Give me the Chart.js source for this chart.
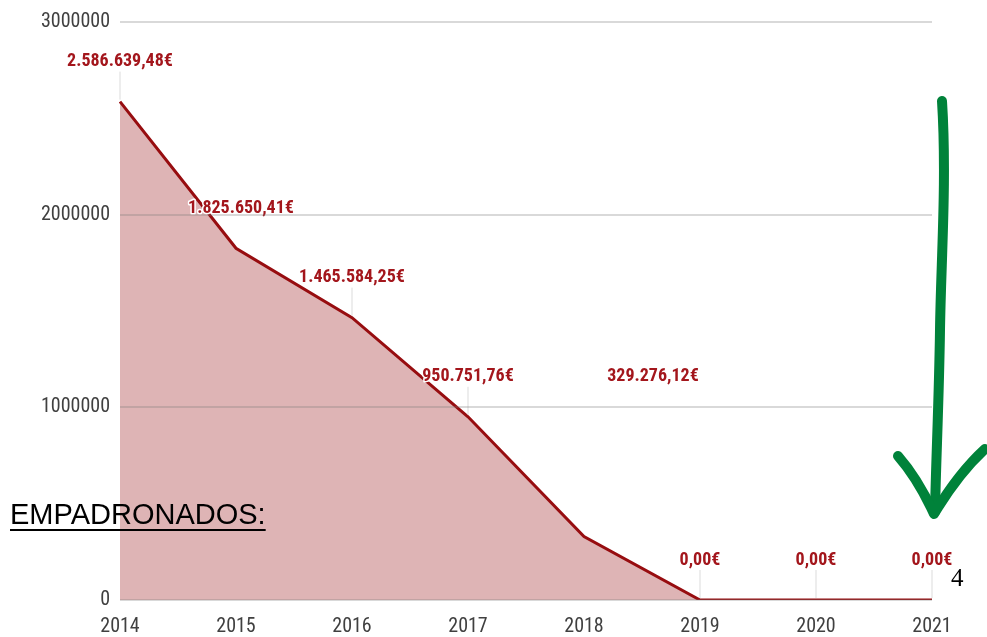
<!DOCTYPE html>
<html>
<head>
<meta charset="utf-8">
<script src="https://cdn.jsdelivr.net/npm/chart.js@4.4.1/dist/chart.umd.min.js"></script>
<style>
  html, body { margin: 0; padding: 0; background: #fff; }
  #wrap { position: relative; width: 987px; height: 637px; overflow: hidden; }
  #chart { position: absolute; left: 0; top: 0; }
  .note { position: absolute; left: 10px; top: 498px; font: 29px "Liberation Sans", Arial, sans-serif; color: #000; text-decoration: underline; text-decoration-thickness: 2px; text-underline-offset: 5px; }
  .page { position: absolute; left: 951px; top: 564px; font: 25px "Liberation Serif", serif; color: #000; }
  #arrow { position: absolute; left: 0; top: 0; pointer-events: none; }
</style>
</head>
<body>
<div id="wrap">
  <canvas id="chart" width="987" height="637"></canvas>
  <div class="note">EMPADRONADOS:</div>
  <div class="page">4</div>
  <svg id="arrow" width="987" height="637">
    <path d="M942 101 C947 180 941 260 940 330 C939 400 936 460 935 512" fill="none" stroke="#00823a" stroke-width="10" stroke-linecap="round"/>
    <path d="M898 456 C912 472 924 492 934 514 C946 494 962 470 985 449" fill="none" stroke="#00823a" stroke-width="10" stroke-linecap="round" stroke-linejoin="round"/>
  </svg>
</div>
<script>
// data
const years = ["2014", "2015", "2016", "2017", "2018", "2019", "2020", "2021"];
const amounts = [2586639.48, 1825650.41, 1465584.25, 950751.76, 329276.12, 0, 0, 0];
const yTicks = [0, 1000000, 2000000, 3000000];

const cond = "'Roboto Condensed', 'DejaVu Sans Condensed', sans-serif";

const euro = (v) => v.toLocaleString('de-DE', { minimumFractionDigits: 2, maximumFractionDigits: 2 }) + "€";

// value labels above each point, with a thin leader line
const valueLabels = {
  id: 'valueLabels',
  afterDatasetsDraw(chart, args, opts) {
    const ctx = chart.ctx;
    const meta = chart.getDatasetMeta(0);
    const moved = opts.moved || {};
    ctx.save();
    meta.data.forEach((pt, i) => {
      if (moved[i]) return;
      ctx.strokeStyle = 'rgba(215,215,215,0.9)';
      ctx.lineWidth = 1;
      ctx.beginPath();
      ctx.moveTo(pt.x, pt.y - 30);
      ctx.lineTo(pt.x, pt.y - 2);
      ctx.stroke();
    });
    ctx.font = "bold 18px " + cond;
    ctx.textAlign = 'center';
    ctx.textBaseline = 'middle';
    ctx.lineJoin = 'round';
    meta.data.forEach((pt, i) => {
      const m = moved[i] || [0, 0];
      const txt = euro(amounts[i]);
      const lx = pt.x + m[0];
      const ly = pt.y - 40 + m[1];
      ctx.strokeStyle = '#fff';
      ctx.lineWidth = 3;
      ctx.strokeText(txt, lx, ly);
      ctx.fillStyle = '#a3161c';
      ctx.fillText(txt, lx, ly);
    });
    ctx.restore();
  }
};

new Chart(document.getElementById('chart').getContext('2d'), {
  type: 'line',
  data: {
    labels: years,
    datasets: [{
      data: amounts,
      borderColor: '#970d10',
      borderWidth: 3,
      backgroundColor: 'rgb(222,180,181)',
      fill: 'origin',
      pointRadius: 0,
      tension: 0
    }]
  },
  options: {
    responsive: false,
    animation: false,
    layout: { padding: { left: 0, top: 20, right: 55, bottom: 0 } },
    plugins: {
      legend: { display: false },
      tooltip: { enabled: false },
      valueLabels: { moved: { 1: [5, 0], 4: [69, -120] } }
    },
    scales: {
      x: {
        offset: false,
        grid: { display: false, drawTicks: false },
        border: { display: false },
        ticks: { color: '#404040', font: { family: cond, size: 20 }, padding: 15, maxRotation: 0 },
        afterFit: (s) => { s.height = 37; }
      },
      y: {
        min: 0,
        max: 3000000,
        afterBuildTicks: (s) => { s.ticks = yTicks.map(v => ({ value: v })); },
        grid: { color: 'rgba(120,120,120,0.28)', lineWidth: 2, drawTicks: false, z: 1 },
        border: { display: false },
        ticks: { color: '#404040', font: { family: cond, size: 20 }, padding: 10, callback: (v) => String(v) },
        afterFit: (s) => { s.width = 120; }
      }
    }
  },
  plugins: [valueLabels]
});
</script>
</body>
</html>
